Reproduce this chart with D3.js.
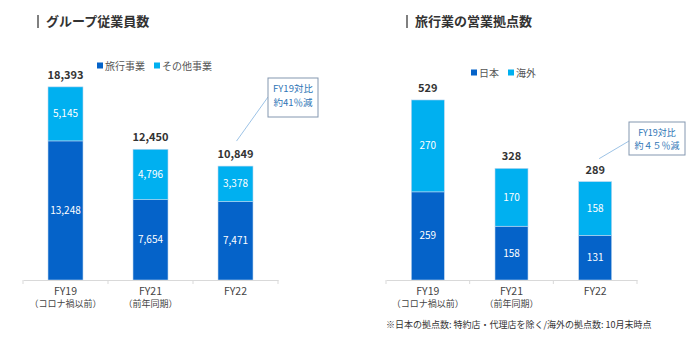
<!DOCTYPE html>
<html><head><meta charset="utf-8">
<script src="https://cdn.jsdelivr.net/npm/d3@7/dist/d3.min.js"></script>
<style>
html,body{margin:0;padding:0;background:#fff;}
svg{display:block;font-family:"Noto Sans CJK JP","Noto Sans",sans-serif;}
</style></head>
<body>
<svg id="c" width="700" height="347"></svg>
<script>
// ---- data ----
const categories = ["FY19", "FY21", "FY22"];
const subLabels = ["（コロナ禍以前）", "（前年同期）", ""];
const empTravel = [13248, 7654, 7471];
const empOther = [5145, 4796, 3378];
const empTotal = [18393, 12450, 10849];
const baseJapan = [259, 158, 131];
const baseOverseas = [270, 170, 158];
const baseTotal = [529, 328, 289];
const empSeries = ["旅行事業", "その他事業"];
const baseSeries = ["日本", "海外"];
const titles = ["グループ従業員数", "旅行業の営業拠点数"];
const callouts = [["FY19対比", "約41％減"], ["FY19対比", "約４５％減"]];
const footnote = "※日本の拠点数: 特約店・代理店を除く/海外の拠点数: 10月末時点";

const DARK = "#0563C9", LIGHT = "#00B0F0";
const svg = d3.select("#c");
const fmt = d3.format(",");

function drawChart(cfg) {
  const g = svg.append("g");
  const x = d3.scaleBand().domain(categories).range(cfg.xr).padding(0);
  const y = d3.scaleLinear().domain(cfg.yd).range(cfg.yr);
  const bw = cfg.barW;
  const bx = c => x(c) + (x.bandwidth() - bw) / 2;
  const cx = c => x(c) + x.bandwidth() / 2;

  // title
  g.append("rect").attr("x", cfg.titleX - 9).attr("y", 15).attr("width", 2).attr("height", 13).attr("fill", "#808080");
  g.append("text").attr("x", cfg.titleX).attr("y", 26).attr("font-size", 13).attr("font-weight", "bold")
    .attr("fill", "#333").text(cfg.title);

  // legend
  const lg = g.append("g").attr("transform", `translate(${cfg.legX},${cfg.legY})`);
  let lx = 0;
  cfg.series.forEach((s, i) => {
    lg.append("rect").attr("x", lx).attr("y", -3.5).attr("width", 6).attr("height", 6).attr("fill", i === 0 ? DARK : LIGHT);
    const t = lg.append("text").attr("x", lx + 8).attr("y", 3.5).attr("font-size", 10).attr("fill", "#555").text(s);
    lx += 8 + t.node().getComputedTextLength() + 9;
  });

  // bars
  categories.forEach((c, i) => {
    const a = cfg.bottom[i], b = cfg.top[i];
    g.append("rect").attr("x", bx(c)).attr("y", y(a)).attr("width", bw).attr("height", y(0) - y(a))
      .attr("fill", DARK).attr("stroke", "#bcd6ef").attr("stroke-width", 0.6);
    g.append("rect").attr("x", bx(c)).attr("y", y(a + b)).attr("width", bw).attr("height", y(a) - y(a + b))
      .attr("fill", LIGHT).attr("stroke", "#bcd6ef").attr("stroke-width", 0.6);
    g.append("text").attr("x", cx(c)).attr("y", (y(0) + y(a)) / 2 + 3.5).attr("text-anchor", "middle")
      .attr("font-size", 10).attr("fill", "#fff").text(fmt(a));
    g.append("text").attr("x", cx(c)).attr("y", (y(a) + y(a + b)) / 2 + 3.5).attr("text-anchor", "middle")
      .attr("font-size", 10).attr("fill", "#fff").text(fmt(b));
    g.append("text").attr("x", cx(c)).attr("y", y(cfg.total[i]) - 8).attr("text-anchor", "middle")
      .attr("font-size", 11).attr("font-weight", "bold").attr("fill", "#333").text(fmt(cfg.total[i]));
  });

  // axis
  const ax = g.append("g").attr("transform", `translate(0,${y(0)})`)
    .call(d3.axisBottom(x).tickSize(0).tickSizeOuter(0).tickFormat(""));
  ax.select(".domain").attr("stroke", "#d9d9d9").attr("stroke-width", 1.2);
  const bounds = categories.map(c => x(c)).concat([x(categories[categories.length - 1]) + x.bandwidth()]);
  g.selectAll(null).data(bounds).enter().append("line")
    .attr("x1", d => d).attr("x2", d => d).attr("y1", y(0)).attr("y2", y(0) + 4)
    .attr("stroke", "#d9d9d9");
  categories.forEach((c, i) => {
    g.append("text").attr("x", cx(c)).attr("y", y(0) + 15).attr("text-anchor", "middle")
      .attr("font-size", 10.5).attr("fill", "#444").text(c);
    if (subLabels[i]) g.append("text").attr("x", cx(c)).attr("y", y(0) + 27).attr("text-anchor", "middle")
      .attr("font-size", 9).attr("fill", "#444").text(subLabels[i]);
  });

  // callout
  const co = cfg.callout;
  const last = categories[2];
  g.append("line").attr("x1", co.x).attr("y1", co.ly).attr("x2", cx(last) + co.dx)
    .attr("y2", y(cfg.total[2]) - co.dy).attr("stroke", "#9dc3e6").attr("stroke-width", 1);
  g.append("rect").attr("x", co.x).attr("y", co.y).attr("width", co.w).attr("height", co.h)
    .attr("fill", "#fff").attr("stroke", "#8497b0").attr("stroke-width", 1);
  co.text.forEach((t, k) => {
    g.append("text").attr("x", co.x + co.w / 2).attr("y", co.y + co.t0 + k * co.lh).attr("text-anchor", "middle")
      .attr("font-size", co.fs).attr("fill", "#2e75b6").text(t);
  });
}

drawChart({
  xr: [23, 278], yd: [0, 20000], yr: [280, 70], barW: 35,
  bottom: empTravel, top: empOther, total: empTotal,
  title: titles[0], titleX: 46, series: empSeries, legX: 97, legY: 66,
  callout: { x: 268, y: 78, w: 50, h: 39, ly: 97, dx: 1, dy: 25, t0: 14, lh: 14, fs: 9.5, text: callouts[0] }
});
drawChart({
  xr: [386, 637], yd: [0, 600], yr: [280, 75.8], barW: 33,
  bottom: baseJapan, top: baseOverseas, total: baseTotal,
  title: titles[1], titleX: 415, series: baseSeries, legX: 471, legY: 73,
  callout: { x: 629, y: 122, w: 56, h: 33, ly: 141, dx: 4, dy: 23, t0: 13.5, lh: 13.5, fs: 9, text: callouts[1] }
});

svg.append("text").attr("x", 386).attr("y", 328).attr("font-size", 9).attr("fill", "#333").text(footnote);
</script>
</body></html>
